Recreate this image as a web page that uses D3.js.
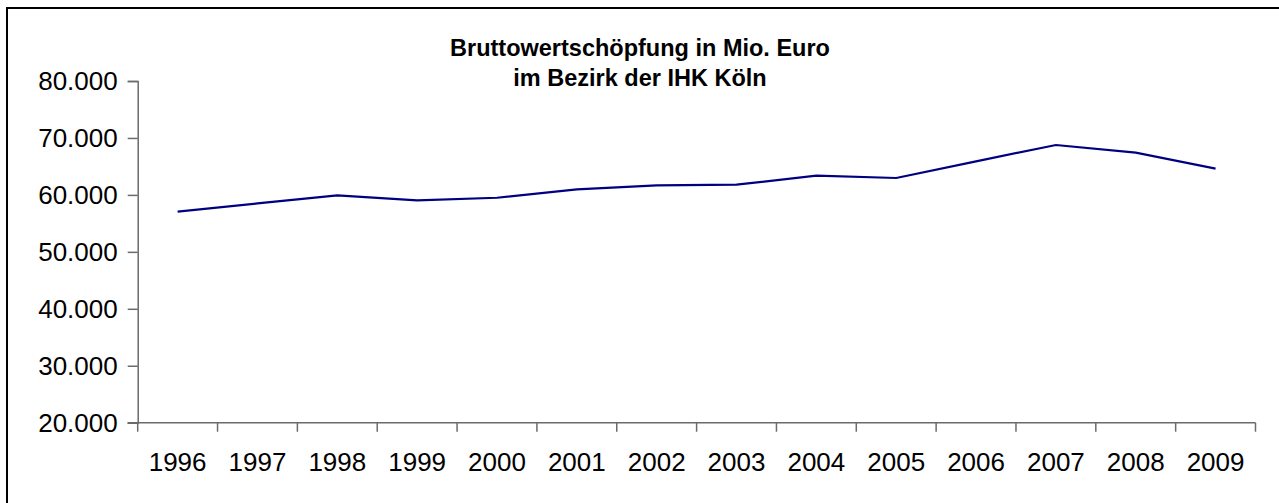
<!DOCTYPE html>
<html><head><meta charset="utf-8">
<script src="https://cdn.jsdelivr.net/npm/d3@7"></script>
<style>html,body{margin:0;padding:0;background:#fff;}svg{display:block;}</style>
</head><body>
<script>
const years = ["1996","1997","1998","1999","2000","2001","2002","2003","2004","2005","2006","2007","2008","2009"];
const values = [57050,58500,59900,59050,59500,60980,61680,61800,63370,62970,65900,68760,67410,64600];
const yTicks = [20000,30000,40000,50000,60000,70000,80000];
const titleLines = ["Bruttowertschöpfung in Mio. Euro","im Bezirk der IHK Köln"];

(function(){
const W = 1279, H = 503;
const svg = d3.select("body").append("svg").attr("width", W).attr("height", H);

// outer frame
svg.append("rect").attr("x", 7).attr("y", 8).attr("width", W + 20).attr("height", H + 20)
  .attr("fill", "none").attr("stroke", "#000").attr("stroke-width", 2);

const pLeft = 137.7, pRight = 1255.5, pTop = 81, pBottom = 422.7;
const x = d3.scaleBand().domain(years).range([pLeft, pRight]).paddingInner(0).paddingOuter(0);
const y = d3.scaleLinear().domain([20000, 80000]).range([pBottom, pTop]);
const fmt = d => d3.format(",")(d).replace(/,/g, ".");

const font = "'Liberation Sans', Arial, sans-serif";

// y axis
const yAxis = svg.append("g").attr("transform", `translate(${pLeft},0)`)
  .call(d3.axisLeft(y).tickValues(yTicks).tickFormat(fmt).tickSizeOuter(0).tickSize(10).tickPadding(10));
yAxis.select(".domain").attr("stroke", "#6b6b6b").attr("stroke-width", 1.5);
yAxis.selectAll(".tick line").attr("stroke", "#6b6b6b").attr("stroke-width", 1.5);
yAxis.selectAll("text").attr("font-family", font).attr("font-size", 26).attr("fill", "#000");

// x axis: ticks between categories
const xg = svg.append("g").attr("transform", `translate(0,${pBottom})`);
xg.append("line").attr("x1", pLeft - 10).attr("x2", pRight).attr("y1", 0).attr("y2", 0)
  .attr("stroke", "#6b6b6b").attr("stroke-width", 1.5);
const bounds = years.map(d => x(d)).concat([x(years[years.length-1]) + x.bandwidth()]);
xg.selectAll("line.tk").data(bounds).join("line").attr("class","tk")
  .attr("x1", d => d).attr("x2", d => d).attr("y1", 0).attr("y2", 9)
  .attr("stroke", "#6b6b6b").attr("stroke-width", 1.5);
xg.selectAll("text").data(years).join("text")
  .attr("x", d => x(d) + x.bandwidth()/2).attr("y", 48.5)
  .attr("text-anchor", "middle").attr("font-family", font).attr("font-size", 26).attr("fill", "#000")
  .text(d => d);

// line
const line = d3.line().x((d,i) => x(years[i]) + x.bandwidth()/2).y(d => y(d));
svg.append("path").datum(values).attr("d", line)
  .attr("fill", "none").attr("stroke", "#000080").attr("stroke-width", 2.2).attr("stroke-linejoin", "miter");

// title
svg.append("text").attr("x", 640).attr("y", 56).attr("text-anchor", "middle")
  .attr("font-family", font).attr("font-weight", "bold").attr("font-size", 23.5)
  .selectAll("tspan").data(titleLines).join("tspan")
  .attr("x", 640).attr("dy", (d,i) => i === 0 ? 0 : 30).text(d => d);
})();
</script>
</body></html>
